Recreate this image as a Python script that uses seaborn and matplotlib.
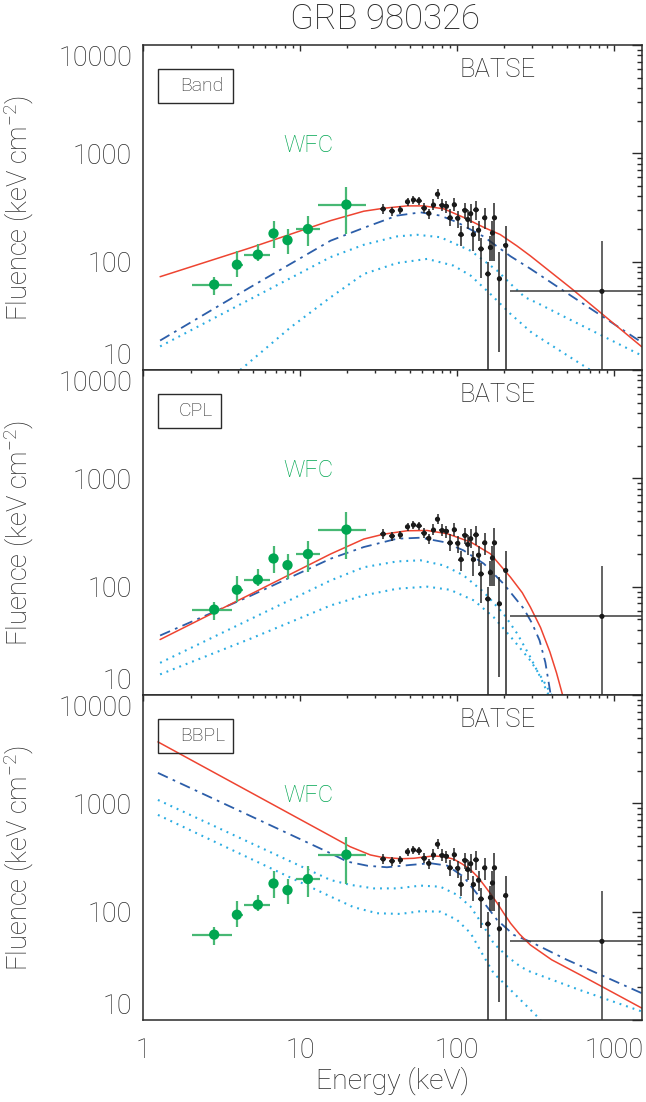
import numpy as np
import pandas as pd
import matplotlib
matplotlib.use("Agg")
import matplotlib.pyplot as plt
import seaborn as sns
from matplotlib.ticker import LogLocator, NullFormatter, FixedLocator, FixedFormatter
from matplotlib.patches import Rectangle

# ---------------- data ----------------
# BATSE points (same in all panels)
batse_E = [33.8, 38.5, 43.5, 48.3, 52.7, 57.1, 61.7, 66.0, 70.7, 75.0, 80.2, 85.5, 90.2, 96.0, 101,
           106, 112, 117, 122, 127, 132, 137, 142, 150, 157, 163, 168, 173, 186, 204]
batse_F = [306, 293, 300, 357, 371, 365, 311, 279, 333, 419, 330, 324, 254, 335, 251,
           178, 297, 245, 277, 178, 301, 195, 131, 254, 77, 135, 184, 254, 69.5, 141]
batse_Fhi = [340, 319, 327, 389, 404, 398, 346, 308, 376, 466, 375, 364, 303, 384, 293,
             212, 350, 297, 339, 212, 361, 236, 166, 314, 100, 172, 236, 345, 124, 213]
batse_Flo = [275, 263, 274, 326, 338, 335, 284, 246, 300, 377, 293, 283, 213, 293, 206,
             139, 247, 198, 229, 125, 244, 154, 71, 198, 1, 101, 102, 101, 14.8, 1]
# last wide BATSE bin
batse_bin_E = [837]
batse_bin_F = [53.2]
batse_bin_Elo = [216]
batse_bin_Ehi = [1600]
batse_bin_Fhi = [156]
batse_bin_Flo = [1]

# WFC points
wfc_E = [2.83, 3.95, 5.37, 6.76, 8.3, 11.2, 19.7]
wfc_F = [61.4, 93.7, 116, 182, 158, 200, 336]
wfc_Elo = [2.05, 3.67, 4.39, 6.76, 8.3, 9.43, 13.0]
wfc_Ehi = [3.67, 4.35, 6.44, 6.76, 8.3, 13.3, 26.4]
wfc_Flo = [49.3, 72.6, 101, 133, 118, 138, 180]
wfc_Fhi = [72.6, 126, 144, 239, 200, 266, 485]

# Panel 1 (Band) model curves
band_red_E = [1.28, 4.8, 15.6, 25.4, 34, 48, 61.3, 82.4, 110, 148, 188, 240, 293, 531, 1500]
band_red_F = [72.6, 134, 239, 292, 311, 327, 327, 307, 256, 207, 178, 140, 113, 57, 16.4]
band_blue_E = [1.28, 4.8, 15.6, 25.4, 41.4, 58.5, 78.2, 100, 148, 219, 293, 504, 1500]
band_blue_F = [18.7, 58, 156, 205, 266, 285, 266, 231, 170, 112, 86, 51, 18.0]
band_dot1_E = [1.28, 15.6, 25.4, 41.4, 55.6, 78.2, 122, 180, 220, 270, 330, 504, 1500]
band_dot1_F = [16.5, 110, 143, 171, 177, 168, 126, 82.6, 62, 47, 41, 30, 13.6]
band_dot2_E = [4.15, 8.67, 15.6, 25.4, 41.4, 64.4, 95, 122, 163, 219, 300, 705]
band_dot2_F = [10, 24.7, 46.8, 76.9, 97, 106, 91.8, 74.3, 50.3, 32.9, 22, 10]

# Panel 2 (CPL) model curves
cpl_red_E = [1.28, 4.8, 15.6, 25.4, 34, 48, 64.4, 86.5, 122, 163, 219, 260, 293, 340, 390, 430, 470]
cpl_red_F = [32.5, 84.8, 200, 275, 305, 328, 330, 308, 258, 201, 122, 88, 64.7, 42, 25, 16, 10]
cpl_blue_E = [1.28, 4.8, 15.6, 25.4, 41.4, 58.5, 82.4, 110, 148, 198, 266, 300, 335, 365, 395]
cpl_blue_F = [35.4, 82, 181, 232, 277, 283, 258, 216, 163, 106, 62.5, 46, 32, 20, 10]
cpl_dot1_E = [1.28, 4.8, 15.6, 25.4, 41.4, 58.5, 82.4, 110, 148, 198, 242, 293, 340, 383]
cpl_dot1_F = [19.8, 50, 114, 151, 171, 175, 157, 127, 89, 56, 36.7, 22.3, 14.5, 10]
cpl_dot2_E = [1.28, 4.8, 15.6, 25.4, 41.4, 64.4, 90.2, 128, 171, 230, 293, 350, 400]
cpl_dot2_F = [15.5, 33, 67, 83, 95.7, 100, 93.5, 74.6, 52.2, 31.8, 20.8, 14, 10]

# Panel 3 (BBPL) model curves
bbpl_red_E = [1.24, 15.6, 20.8, 28, 33, 44, 52.9, 62, 71, 82, 95.3, 108, 122, 135, 148, 163, 180, 198,
              219, 250, 293, 400, 612, 1500]
bbpl_red_F = [3690, 500, 398, 334, 318, 308, 311, 320, 327, 322, 305, 275, 243, 210, 177, 147, 120, 97,
              78.2, 62, 49.3, 36, 26, 12.9]
bbpl_blue_E = [1.24, 15.6, 19.9, 27, 35.7, 50.4, 67.6, 86.5, 110, 141, 180, 230, 293, 500, 1500]
bbpl_blue_F = [1910, 346, 290, 265, 257, 270, 280, 266, 210, 133, 83.8, 60.9, 52.8, 36, 17.7]
bbpl_dot1_E = [1.24, 15.6, 20.8, 29.4, 41.4, 58.5, 78.2, 100, 122, 148, 171, 209, 254, 293, 600, 1500]
bbpl_dot1_F = [1075, 196, 177, 164, 164, 174, 170, 143, 111, 72.8, 51, 38.5, 31, 27.9, 19, 12]
bbpl_dot2_E = [1.24, 15.6, 21.9, 30.9, 43.5, 58.5, 78.2, 100, 122, 148, 171, 209, 254, 341]
bbpl_dot2_F = [782, 138, 110, 96.7, 95.3, 101, 100, 83.8, 63.2, 38.5, 27, 20.3, 15.3, 10]

panel_names = ["Band", "CPL", "BBPL"]
title = "GRB 980326"
ytick_vals = [10, 100, 1000, 10000]
ytick_labels = ["10", "100", "1000", "10000"]
xtick_vals = [1, 10, 100, 1000]
xtick_labels = ["1", "10", "100", "1000"]

# ---------------- styling ----------------
sns.set_theme(style="white")
plt.rcParams["font.family"] = ["Roboto", "Liberation Sans", "DejaVu Sans"]
plt.rcParams["font.weight"] = "light"
plt.rcParams["axes.labelweight"] = "light"
plt.rcParams["mathtext.fontset"] = "custom"
plt.rcParams["mathtext.rm"] = "Roboto:light"
plt.rcParams["mathtext.it"] = "Roboto:italic:light"
plt.rcParams["mathtext.bf"] = "Roboto:bold"

RED = "#ee4431"
BLUE = "#2c5ea9"
CYAN = "#2aace2"
GREEN = "#00a651"
GREEN_ERR = "#47b874"
FRAME = "#2a2a2a"
TXT = "#2a2a2a"

models = [
    [(band_red_E, band_red_F), (band_blue_E, band_blue_F), (band_dot1_E, band_dot1_F), (band_dot2_E, band_dot2_F)],
    [(cpl_red_E, cpl_red_F), (cpl_blue_E, cpl_blue_F), (cpl_dot1_E, cpl_dot1_F), (cpl_dot2_E, cpl_dot2_F)],
    [(bbpl_red_E, bbpl_red_F), (bbpl_blue_E, bbpl_blue_F), (bbpl_dot1_E, bbpl_dot1_F), (bbpl_dot2_E, bbpl_dot2_F)],
]
box_w = [0.151, 0.127, 0.151]
text_x = [0.118, 0.106, 0.120]

fig, axes = plt.subplots(3, 1, sharex=True, figsize=(6.46, 11.02), dpi=100)
fig.subplots_adjust(left=0.2218, right=0.9933, top=0.9592, bottom=0.0744, hspace=0)

bE = np.array(batse_E)
bF = np.array(batse_F)

for i, ax in enumerate(axes):
    ax.set_xscale("log")
    ax.set_yscale("log")
    red, blue, d1, d2 = models[i]
    for d in (d1, d2):
        sns.lineplot(x=d[0], y=d[1], ax=ax, color=CYAN, lw=1.5, linestyle=(0, (0.9, 2.4)),
                     sort=False, estimator=None, legend=False)
    sns.lineplot(x=blue[0], y=blue[1], ax=ax, color=BLUE, lw=1.3, linestyle=(0, (6, 3, 1.5, 3)),
                 sort=False, estimator=None, legend=False)
    sns.lineplot(x=red[0], y=red[1], ax=ax, color=RED, lw=1.1,
                 sort=False, estimator=None, legend=False)

    # WFC
    wE = np.array(wfc_E); wF = np.array(wfc_F)
    ax.errorbar(wE, wF, xerr=[wE - np.array(wfc_Elo), np.array(wfc_Ehi) - wE],
                yerr=[wF - np.array(wfc_Flo), np.array(wfc_Fhi) - wF],
                fmt="none", ecolor=GREEN_ERR, elinewidth=1.6, capsize=0, zorder=4)
    sns.scatterplot(x=wfc_E, y=wfc_F, ax=ax, color=GREEN, s=55, edgecolor="none", zorder=5, legend=False)

    # BATSE
    ax.errorbar(bE, bF, xerr=[bE * 0.04, bE * 0.04],
                yerr=[bF - np.array(batse_Flo), np.array(batse_Fhi) - bF],
                fmt="none", ecolor="#262626", elinewidth=1.1, capsize=0, zorder=4)
    lE = np.array(batse_bin_E); lF = np.array(batse_bin_F)
    ax.errorbar(lE, lF, xerr=[lE - np.array(batse_bin_Elo), np.array(batse_bin_Ehi) - lE],
                yerr=[lF - np.array(batse_bin_Flo), np.array(batse_bin_Fhi) - lF],
                fmt="none", ecolor="#3a3a3a", elinewidth=1.1, capsize=0, zorder=4)
    sns.scatterplot(x=batse_E + batse_bin_E, y=batse_F + batse_bin_F, ax=ax, color="#1a1a1a",
                    s=14, edgecolor="none", zorder=6, legend=False)

    ax.set_xlim(1, 1500)
    ax.set_ylim(10, 10000)
    ax.yaxis.set_major_locator(FixedLocator(ytick_vals))
    ax.yaxis.set_major_formatter(FixedFormatter(ytick_labels))
    ax.yaxis.set_minor_locator(LogLocator(base=10, subs=np.arange(2, 10), numticks=20))
    ax.yaxis.set_minor_formatter(NullFormatter())
    ax.xaxis.set_major_locator(FixedLocator(xtick_vals))
    ax.xaxis.set_major_formatter(FixedFormatter(xtick_labels))
    ax.xaxis.set_minor_locator(LogLocator(base=10, subs=np.arange(2, 10), numticks=20))
    ax.xaxis.set_minor_formatter(NullFormatter())

    ax.tick_params(axis="both", which="both", direction="in", top=True, right=True,
                   color=FRAME, labelcolor=TXT, width=1.0)
    ax.tick_params(axis="y", which="major", length=7.2, pad=8, labelsize=19.5)
    ax.tick_params(axis="y", which="minor", length=3.6)
    ax.tick_params(axis="x", which="major", length=4.3, pad=12.5, labelsize=19.5)
    ax.tick_params(axis="x", which="minor", length=2.4)
    for sp in ax.spines.values():
        sp.set_color(FRAME)
        sp.set_linewidth(1.1)

    labels = ax.get_yticklabels()
    labels[0].set_verticalalignment("bottom")
    labels[-1].set_verticalalignment("top")

    ax.set_ylabel("Fluence (keV cm$^{-2}$)", fontsize=19.7, color=TXT, fontweight="light")
    ax.yaxis.set_label_coords(-0.215, 0.5)
    ax.set_xlabel("")

    ax.add_patch(Rectangle((0.029, 0.822), box_w[i], 0.105, transform=ax.transAxes,
                           fill=False, ec=FRAME, lw=1.0, zorder=7))
    ax.text(text_x[i], 0.874, panel_names[i], transform=ax.transAxes, ha="center", va="center",
            fontsize=14, color=TXT, zorder=8)
    ax.text(0.71, 0.922, "BATSE", transform=ax.transAxes, ha="center", va="center",
            fontsize=18.5, color=TXT)
    ax.text(0.331, 0.691, "WFC", transform=ax.transAxes, ha="center", va="center",
            fontsize=17, color=GREEN)

for ax in axes[:-1]:
    ax.tick_params(axis="x", which="both", labelbottom=False)

axes[-1].set_xlabel("Energy (keV)", fontsize=20.4, color=TXT, fontweight="light")
axes[-1].xaxis.set_label_coords(0.5, -0.143)

fig.text(0.596, 1 - 19 / 1102, title, ha="center", va="center", fontsize=25, color=TXT)

fig.savefig("out.png", dpi=100)
